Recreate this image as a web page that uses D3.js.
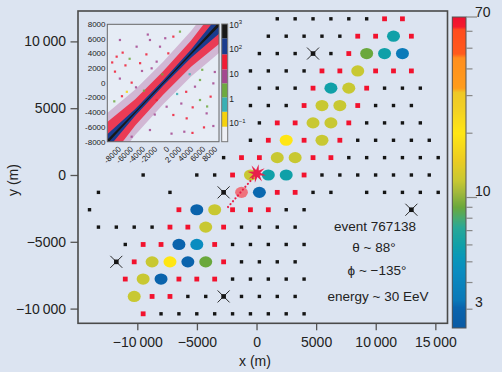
<!DOCTYPE html>
<html>
<head>
<meta charset="utf-8">
<title>Shower footprint</title>
<script src="https://cdn.jsdelivr.net/npm/d3@7"></script>
<style>
  body { margin: 0; background: #dce4f1; }
  svg { display: block; font-family: "Liberation Sans", Arial, sans-serif; }
</style>
</head>
<body>
<script>
// ---- station array (metres), one entry per row of the triangular grid ----
const rowY = [11690, 10390, 9090, 7790, 6500, 5200, 3900, 2600, 1300, 0,
              -1300, -2600, -3900, -5200, -6500, -7790, -9090, -10390];

// silent stations (small black squares)
const silentX = [
  [1740, 3240, 4740, 6240, 7740, 9240],
  [990, 2490, 3990, 5490, 6990],
  [240, 1740, 3240, 6240],
  [-510, 990, 2490, 3990],
  [240, 1740, 3240, 10740, 12240, 13740],
  [-510, 990, 2490, 9990, 11490, 12990],
  [240, 9240, 10740, 12240, 13740],
  [-510, 8490, 9990, 11490, 12990, 14490],
  [-2760, 7740, 9240, 10740, 12240, 13740, 15240],
  [-9510, -5010, -3510, 5490, 6990, 8490, 9990, 11490, 12990, 14490],
  [-13260, -7260, 4740, 6240, 9240, 10740, 12240, 13740, 15240],
  [-14010, 2490, 3990],
  [-13260, -11760, -10260, -8760, -1260, 240, 1740, 3240],
  [-11010, -2010, -510, 990, 2490, 3990],
  [-1260, 240, 1740, 3240],
  [-2010, -510, 990, 2490, 3990],
  [-5760, -4260, -1260, 240, 1740, 3240],
  [-8010, -6510, -5010, -3510, -2010, -510, 990, 2490, 3990]
];

// accidental stations (red squares)
const randomX = [
  [10740, 12240],
  [8490, 9990, 12990],
  [7740],
  [5490, 6990, 9990, 11490, 12990],
  [4740, 9240],
  [3990, 8490],
  [1740, 3240, 7740],
  [990, 3990, 6990],
  [-1260, 240, 4740, 6240],
  [-2010, 3990],
  [1740, 3240],
  [-6510, -2010, -510, 990],
  [-7260, -5760, -2760],
  [-9510, -8010, -3510],
  [-10260, -2760],
  [-11010, -6510, -5010, -3510],
  [-8760, -7260],
  [-9510]
];

// stations in the event: x, y, signal (VEM)
const hitStations = [
  [11490, 10390, 6],
  [9240, 9090, 9], [10740, 9090, 6], [12240, 9090, 3.4],
  [8490, 7790, 12],
  [6240, 6500, 6], [7740, 6500, 12],
  [5490, 5200, 12], [6990, 5200, 12],
  [4740, 3900, 12], [6240, 3900, 12],
  [2490, 2600, 20], [5490, 2600, 12],
  [1740, 1300, 12], [3240, 1300, 12],
  [-510, 0, 12], [990, 0, 6], [2490, 0, 6],
  [240, -1300, 3.1],
  [-5010, -2600, 3.0], [-3510, -2600, 12],
  [-4260, -3900, 12],
  [-6510, -5200, 3.0], [-5010, -5200, 4.5],
  [-8760, -6500, 12], [-7260, -6500, 20], [-5760, -6500, 3.0], [-4260, -6500, 9],
  [-9510, -7790, 12], [-8010, -7790, 3.0],
  [-10260, -9090, 12]
];

// stations out of operation (crosses)
const deadStations = [[4740, 9090], [-2760, -1300], [12990, -2600], [-11760, -6500], [-2760, -9090]];
const saturatedStation = [-1260, -1300];
const showerCore = [20, 110];
const axisFoot = [-2390, -2395];

// signal colour bar
const signalStops = [2.45, 3.05, 3.3, 4.5, 5.3, 6, 7.2, 8, 9, 10.5, 12, 15, 20, 26, 31, 32.5, 45, 47, 61, 63, 70];
const signalColors = ["#0a5aa4", "#0a64ad", "#0a78b8", "#0a8cc0", "#0898b8", "#10a0a8", "#28a898",
  "#48aa70", "#6aa83c", "#a0b83c", "#c8c832", "#eccc22", "#ffe614", "#f2d024", "#eec826",
  "#ff9c1c", "#ff8e1e", "#ff5a1c", "#ff4c1e", "#f41a2c", "#ee1030"];
const signalTicks = [3, 4, 5, 6, 7, 8, 9, 10, 20, 30, 40, 50, 60, 70];
const signalLabels = [3, 10, 70];

const xTicks = [-10000, -5000, 0, 5000, 10000, 15000];
const yTicks = [-10000, -5000, 0, 5000, 10000];

// ---- inset: 2D histogram reconstructed vs true ----
const insetTicks = [-8000, -6000, -4000, -2000, 0, 2000, 4000, 6000, 8000];
const insetEdges = [0.0173, 0.071, 0.29, 1.12, 4.2, 15.5, 64, 286, 1100];
const insetColors = ["#eef0f5", "#f5d20c", "#3ab0b4", "#6eaa40", "#a44890", "#f01c34", "#1a3c8e", "#181818"];
const insetBandX = [-8000, -4000, 0, 4000, 8000];
const insetBandLevel = [8, 30, 150, 1000];
const insetBandHalfWidth = [
  [3900, 3100, 2900, 3100, 3900],
  [2700, 1800, 1600, 1800, 2700],
  [1000, 450, 380, 550, 1300],
  [260, 130, 110, 150, 300]
];
const insetOutliers = [
  [-6660, 3590, 30], [-5800, 4140, 30], [-3800, 4950, 8], [-6900, 1550, 30], [-3030, 1640, 8],
  [-4510, 50, 30], [-3890, -590, 8], [-2750, -1050, 2], [-1650, 2000, 8], [-930, 2910, 8],
  [-120, 1180, 2], [740, 4040, 30], [1460, 6320, 30], [2410, 7000, 2], [3370, -4820, 30],
  [4230, -3320, 30], [3030, -6640, 8], [5280, -2320, 2], [6230, -4140, 8], [5850, -6050, 30],
  [7190, -5860, 8], [6800, -1860, 30], [500, -3230, 8], [1460, -4360, 30], [-930, -2320, 30],
  [4560, -500, 8], [5280, 410, 2], [-1890, -6410, 8], [-4510, -7320, 8], [-6190, 5860, 8],
  [-1890, 5860, 8], [-450, 4950, 8], [7190, -50, 8], [-7000, -2500, 2], [2000, -1500, 0.5],
  [-5200, -1200, 0.1], [3800, 1200, 0.5], [-7300, 2800, 30], [-6200, 600, 8], [-5400, 2400, 30],
  [-4800, 3300, 2], [-2400, 3900, 30], [-2200, 6600, 8], [300, 6100, 8], [2600, -2800, 8],
  [4200, -6800, 30], [6300, -3200, 2], [7400, 1500, 8], [1200, -6900, 8], [-3300, 2700, 30],
  [-5900, -1800, 30], [-1200, -4300, 8], [3300, -1200, 30], [5600, 1800, 2]
];

const eventText = ["event 767138", "\u03b8 ~ 88\u00b0", "\u03d5 ~ \u2212135\u00b0", "energy ~ 30 EeV"];

// ---------------------------------------------------------------
const W = 502, H = 372;
const svg = d3.select("body").append("svg").attr("width", W).attr("height", H);
svg.append("rect").attr("width", W).attr("height", H).attr("fill", "#dce4f1");
const defs = svg.append("defs");

const x = d3.scaleLinear().domain([-14975, 16020]).range([78, 447.5]);
const y = d3.scaleLinear().domain([-11100, 12275]).range([323.3, 11]);
const signalColor = d3.scaleLog().domain(signalStops).range(signalColors).clamp(true);

const fmt = d => (d < 0 ? "\u2212" : "") +
  (Math.abs(d) >= 10000 ? d3.format(",")(Math.abs(d)).replace(",", "\u2009") : Math.abs(d));

// axes
const gx = svg.append("g").attr("transform", `translate(0,${y.range()[0]})`)
  .call(d3.axisBottom(x).tickValues(xTicks).tickSize(7).tickPadding(6.7).tickFormat(fmt));
const gy = svg.append("g").attr("transform", `translate(${x.range()[0]},0)`)
  .call(d3.axisLeft(y).tickValues(yTicks).tickSize(7.5).tickPadding(4.5).tickFormat(fmt));
[gx, gy].forEach(g => {
  g.select(".domain").remove();
  g.selectAll("line").attr("stroke", "#555").attr("stroke-width", 1.3);
  g.selectAll("text").attr("font-size", 14).attr("fill", "#222")
    .attr("font-family", "Liberation Sans, Arial, sans-serif");
});

svg.append("text").attr("x", 255).attr("y", 365.5).attr("text-anchor", "middle")
  .attr("font-size", 14).attr("fill", "#222").text("x (m)");
svg.append("text").attr("transform", "translate(18,180) rotate(-90)").attr("text-anchor", "middle")
  .attr("font-size", 14).attr("fill", "#222").text("y (m)");

// stations
const plot = svg.append("g");
const silent = rowY.flatMap((yy, i) => silentX[i].map(xx => [xx, yy]));
const random = rowY.flatMap((yy, i) => randomX[i].map(xx => [xx, yy]));

plot.selectAll(".silent").data(silent).join("rect").attr("class", "silent")
  .attr("x", d => x(d[0]) - 1.7).attr("y", d => y(d[1]) - 1.7)
  .attr("width", 3.4).attr("height", 3.4).attr("fill", "#151515");

plot.selectAll(".random").data(random).join("rect").attr("class", "random")
  .attr("x", d => x(d[0]) - 2.4).attr("y", d => y(d[1]) - 2.4)
  .attr("width", 4.8).attr("height", 4.8).attr("fill", "#f2122e");

plot.selectAll(".hit").data(hitStations).join("ellipse").attr("class", "hit")
  .attr("cx", d => x(d[0])).attr("cy", d => y(d[1]))
  .attr("rx", 6.5).attr("ry", 5.6).attr("fill", d => signalColor(d[2]));

const dead = plot.selectAll(".dead").data(deadStations).join("g").attr("class", "dead")
  .attr("transform", d => `translate(${x(d[0])},${y(d[1])})`);
dead.append("path").attr("d", "M-6,-6L6,6M-6,6L6,-6").attr("stroke", "#2a2a2a").attr("stroke-width", 1);
dead.append("rect").attr("x", -2.3).attr("y", -2.3).attr("width", 4.6).attr("height", 4.6).attr("fill", "#151515");

plot.append("ellipse").attr("cx", x(saturatedStation[0])).attr("cy", y(saturatedStation[1]))
  .attr("rx", 6.4).attr("ry", 5.6).attr("fill", "#f25f68").attr("opacity", 0.85);

plot.append("line")
  .attr("x1", x(axisFoot[0])).attr("y1", y(axisFoot[1]))
  .attr("x2", x(showerCore[0])).attr("y2", y(showerCore[1]))
  .attr("stroke", "#e8204a").attr("stroke-width", 2.2)
  .attr("stroke-linecap", "round").attr("stroke-dasharray", "0.01 3.8");

// shower core star
const starPts = d3.range(16).map(i => {
  const r = i % 2 ? 3.6 : 9.5, a = i * Math.PI / 8 + 0.2;
  return [r * Math.sin(a), -r * Math.cos(a)];
});
plot.append("path").attr("d", d3.line()(starPts) + "Z")
  .attr("transform", `translate(${x(showerCore[0])},${y(showerCore[1])})`)
  .attr("fill", "#e8204a");

// frame
svg.append("rect").attr("x", x.range()[0]).attr("y", y.range()[1])
  .attr("width", x.range()[1] - x.range()[0]).attr("height", y.range()[0] - y.range()[1])
  .attr("fill", "none").attr("stroke", "#4a4a4a").attr("stroke-width", 1.6);

// event text
svg.append("g").selectAll("text").data(eventText).join("text")
  .attr("x", (d, i) => [375, 374, 377, 378][i])
  .attr("y", (d, i) => [230.7, 252, 274.5, 300.7][i])
  .attr("text-anchor", "middle").attr("font-size", 13.5).attr("fill", "#222").text(d => d);

// colour bar, drawn in 1 px slices from the same log colour scale
const cbTop = 17, cbBot = 328;
const cbY = d3.scaleLog().domain([2.45, 70]).range([cbBot, cbTop]);
const cbX0 = 452.3, cbW = 13.7;
const cb = svg.append("g");
cb.selectAll(".slice").data(d3.range(cbTop, cbBot)).join("rect").attr("class", "slice")
  .attr("x", cbX0).attr("y", d => d).attr("width", cbW).attr("height", 1)
  .attr("shape-rendering", "crispEdges")
  .attr("fill", d => signalColor(cbY.invert(d + 0.5)));
cb.append("rect").attr("x", cbX0).attr("y", cbTop).attr("width", cbW).attr("height", cbBot - cbTop)
  .attr("fill", "none").attr("stroke", "#555").attr("stroke-width", 1);
cb.selectAll(".cbt").data(signalTicks).join("line").attr("class", "cbt")
  .attr("x1", cbX0 + cbW).attr("x2", d => cbX0 + cbW + (d === 10 || d === 70 ? 11 : 6.5))
  .attr("y1", d => cbY(d)).attr("y2", d => cbY(d))
  .attr("stroke", "#888").attr("stroke-width", 1.2);
cb.selectAll(".cbl").data(signalLabels).join("text").attr("class", "cbl")
  .attr("x", 475).attr("y", d => cbY(d) - (d === 70 ? 0 : 2))
  .attr("font-size", 14).attr("fill", "#222").text(d => d);

// ---- inset ----
const xi = d3.scaleLinear().domain([-8000, 8000]).range([107.3, 219]);
const yi = d3.scaleLinear().domain([-8000, 8000]).range([141.7, 24.3]);
const xiLabel = d3.scaleLinear().domain([-8000, 8000]).range([121.7, 218]);
const insetColor = d3.scaleThreshold().domain(insetEdges.slice(1, -1)).range(insetColors);
const inset = svg.append("g");
inset.append("rect").attr("x", 107.3).attr("y", 24.3).attr("width", 111.7).attr("height", 117.4)
  .attr("fill", "#e6ecf5");
defs.append("clipPath").attr("id", "iclip").append("rect")
  .attr("x", 107.3).attr("y", 24.3).attr("width", 111.7).attr("height", 117.4);
const ig = inset.append("g").attr("clip-path", "url(#iclip)");
const bandOpacity = [0.32, 0.8, 1, 1];
insetBandLevel.forEach((lvl, j) => {
  const hw = insetBandHalfWidth[j];
  const pts = insetBandX.map((X, i) => [xi(X), yi(X + hw[i])])
    .concat(insetBandX.map((X, i) => [xi(X), yi(X - hw[i])]).reverse());
  ig.append("path").attr("d", d3.line()(pts) + "Z")
    .attr("fill", insetColor(lvl)).attr("opacity", bandOpacity[j]);
});
ig.selectAll(".out").data(insetOutliers).join("rect").attr("class", "out")
  .attr("x", d => xi(d[0]) - 1.1).attr("y", d => yi(d[1]) - 1.1)
  .attr("width", 2.2).attr("height", 2.2).attr("fill", d => insetColor(d[2])).attr("opacity", 0.85);
inset.append("rect").attr("x", 107.3).attr("y", 24.3).attr("width", 111.7).attr("height", 117.4)
  .attr("fill", "none").attr("stroke", "#666").attr("stroke-width", 1);

inset.selectAll(".iy").data(insetTicks).join("text").attr("class", "iy")
  .attr("x", 105.5).attr("y", d => yi(d)).attr("dy", "0.35em").attr("text-anchor", "end")
  .attr("font-size", 8).attr("fill", "#222").text(d => d);
inset.selectAll(".ix").data(insetTicks).join("text").attr("class", "ix")
  .attr("transform", d => `translate(${xiLabel(d)},149.5) rotate(-45)`)
  .attr("text-anchor", "end").attr("font-size", 8).attr("fill", "#222")
  .text(d => d === 2000 ? "2\u2009000" : d);

// inset colour bar
const icY = d3.scaleLog().domain([insetEdges[0], insetEdges[insetEdges.length - 1]]).range([141.7, 24]);
inset.selectAll(".icb").data(insetColors).join("rect").attr("class", "icb")
  .attr("x", 221.7).attr("width", 6)
  .attr("y", (d, i) => icY(insetEdges[i + 1]))
  .attr("height", (d, i) => icY(insetEdges[i]) - icY(insetEdges[i + 1]))
  .attr("fill", d => d);
inset.append("rect").attr("x", 221.7).attr("y", 24).attr("width", 6).attr("height", 117.7)
  .attr("fill", "none").attr("stroke", "#777").attr("stroke-width", 1);
const icLabels = [[1000, "3"], [100, "2"], [10, ""], [1, null], [0.1, "\u22121"]];
icLabels.forEach(([v, e]) => {
  const t = inset.append("text").attr("x", 229.3).attr("y", icY(v)).attr("dy", "0.35em")
    .attr("font-size", 8.5).attr("fill", "#222");
  t.append("tspan").text(e === null ? "1" : "10");
  if (e) t.append("tspan").attr("dy", -3.5).attr("font-size", 6).text(e);
});
</script>
</body>
</html>
